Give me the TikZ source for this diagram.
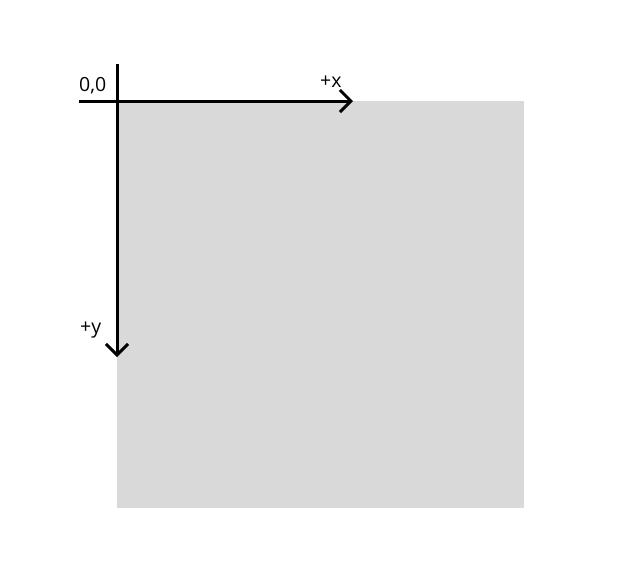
\documentclass[tikz,border=0pt]{standalone}
\usepackage{fontspec}
\setmainfont{Open Sans}
\usetikzlibrary{arrows.meta}
\definecolor{canvasgray}{HTML}{D9D9D9}

\begin{document}
\begin{tikzpicture}[x=1pt, y=-1pt, font=\fontsize{19.5}{23}\selectfont,
	axis/.style={line width=3pt, -{Straight Barb[length=11pt,width=22pt,line width=3pt]}}]

\useasboundingbox (0,0) rectangle (630,582);

% canvas
\fill[canvasgray] (117,101) rectangle (524,508);

% axis end points
\coordinate (xstart) at (79,101);
\coordinate (xend) at (353,101);
\coordinate (ystart) at (117,64);
\coordinate (yend) at (117,357);

% horizontal axis
\draw[axis] (xstart) -- (xend);
% vertical axis
\draw[axis] (ystart) -- (yend);

% labels
\node[anchor=base west, inner sep=0pt] (origin) at (79,91) {0,0};
\node[anchor=base west, inner sep=0pt] (xlabel) at (320,87) {+x};
\node[anchor=base west, inner sep=0pt] (ylabel) at (80,333) {+y};

\end{tikzpicture}
\end{document}
